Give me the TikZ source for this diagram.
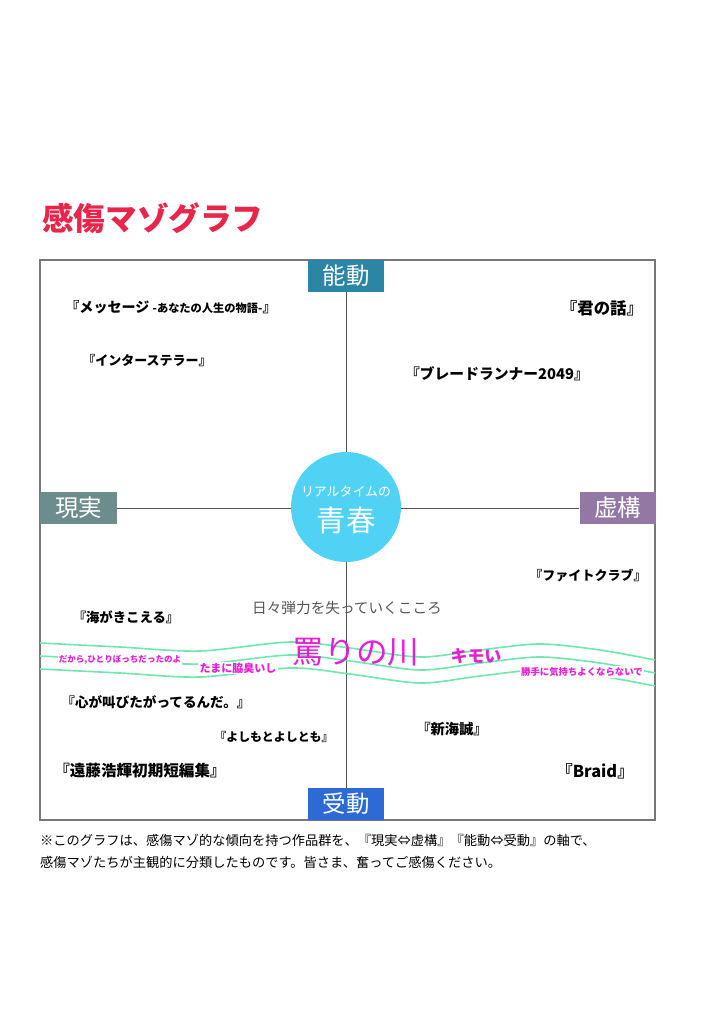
\documentclass[tikz,border=0pt]{standalone}
\usepackage{fontspec}
\setmainfont{Noto Sans CJK JP}
\newcommand{\fsz}[1]{\fontsize{#1pt}{#1pt}\selectfont}
\definecolor{titleR}{HTML}{E8264B}
\definecolor{frameG}{HTML}{777777}
\definecolor{axisG}{HTML}{555555}
\definecolor{nodoC}{HTML}{2A86A4}
\definecolor{judoC}{HTML}{2E6AD6}
\definecolor{genC}{HTML}{6C8C8E}
\definecolor{kyoC}{HTML}{9378A3}
\definecolor{seishunC}{HTML}{50D2F5}
\definecolor{riverM}{HTML}{E61ED6}
\definecolor{waveG}{HTML}{6EE8B0}
\definecolor{kokoroG}{HTML}{555555}
\begin{document}
\begin{tikzpicture}[x=0.03cm,y=-0.03cm,
  axislabel/.style={minimum width=2.28cm,minimum height=0.96cm,inner sep=0pt,text=white,font=\fsz{20}},
  work/.style={font=\bfseries\fsz{11},inner sep=1pt},
  mutter/.style={font=\bfseries\fsz{8},text=riverM,fill=white,inner sep=1pt},
  wave/.style={draw=waveG,line width=1.4pt}]
\useasboundingbox (0,0) rectangle (703,1024);
\node[anchor=west,text=titleR,font=\bfseries\fsz{27}] (title) at (38,218) {感傷マゾグラフ};
\draw[frameG,line width=1.3pt] (40,260) rectangle (655,820);
\node[axislabel,fill=nodoC] (nodo) at (346,276) {能動};
\node[axislabel,fill=judoC] (judo) at (346,804) {受動};
\node[axislabel,fill=genC] (genjitsu) at (78.5,508) {現実};
\node[axislabel,fill=kyoC] (kyoko) at (617.5,508) {虚構};
\draw[axisG,line width=0.8pt] (nodo) -- (judo);
\draw[axisG,line width=0.8pt] (genjitsu) -- (kyoko);
\node[circle,fill=seishunC,minimum size=3.3cm] (seishun) at (346,507) {};
\node[text=white,font=\fsz{11}] (seishun-sub) at (346,492) {リアルタイムの};
\node[text=white,font=\fsz{25}] (seishun-main) at (346,520) {青春};
\foreach \dy in {0,13,26}{
  \begin{scope}[shift={(0,\dy)}]
    \draw[wave] plot[smooth] coordinates {(40,643) (120,647) (200,651) (290,642) (350,648) (420,657) (480,650) (540,644) (600,650) (655,660)};
  \end{scope}
}
\node[work,font=\bfseries\fsz{12}] (message) at (171,307) {『メッセージ {\fsz{9.6}-あなたの人生の物語-}』};
\node[work,font=\bfseries\fsz{11.1}] (interstellar) at (147,361) {『インターステラー』};
\node[work,font=\bfseries\fsz{14}] (kiminohanashi) at (602,308) {『君の話』};
\node[work,font=\bfseries\fsz{12.6}] (bladerunner) at (497,374) {『ブレードランナー2049』};
\node[work,font=\bfseries\fsz{11.1}] (fightclub) at (588,575) {『ファイトクラブ』};
\node[work,font=\bfseries\fsz{11.4}] (umi) at (126,617) {『海がきこえる』};
\node[work,font=\bfseries\fsz{11.6}] (kokosake) at (156,702) {『心が叫びたがってるんだ。』};
\node[work,font=\bfseries\fsz{10.2}] (yoshitomo) at (274,737) {『よしもとよしとも』};
\node[work,font=\bfseries\fsz{12.2}] (shinkai) at (452,729) {『新海誠』};
\node[work,font=\bfseries\fsz{13.3}] (endo) at (140,771) {『遠藤浩輝初期短編集』};
\node[work,font=\bfseries\fsz{14}] (braid) at (595,771) {『Braid』};
\node[text=kokoroG,font=\fsz{12.5}] (kokoro) at (347,608) {日々弾力を失っていくこころ};
\node[text=riverM,font=\fsz{27}] (river) at (356,652) {罵りの川};
\node[text=riverM,font=\bfseries\fsz{14.5}] (kimoi) at (476,656) {キモい};
\node[mutter,font=\bfseries\fsz{7.3}] (hitori) at (120,660) {だから,ひとりぼっちだったのよ};
\node[mutter,font=\bfseries\fsz{9.4}] (wakiga) at (238,668) {たまに脇臭いし};
\node[mutter] (katte) at (582,672) {勝手に気持ちよくならないで};
\node[anchor=west,font=\fsz{11.3},inner sep=0pt] (note1) at (40,840) {※このグラフは、感傷マゾ的な傾向を持つ作品群を、『現実⇔虚構』『能動⇔受動』の軸で、};
\node[anchor=west,font=\fsz{11.3},inner sep=0pt] (note2) at (40,862) {感傷マゾたちが主観的に分類したものです。皆さま、奮ってご感傷ください。};
\end{tikzpicture}
\end{document}
